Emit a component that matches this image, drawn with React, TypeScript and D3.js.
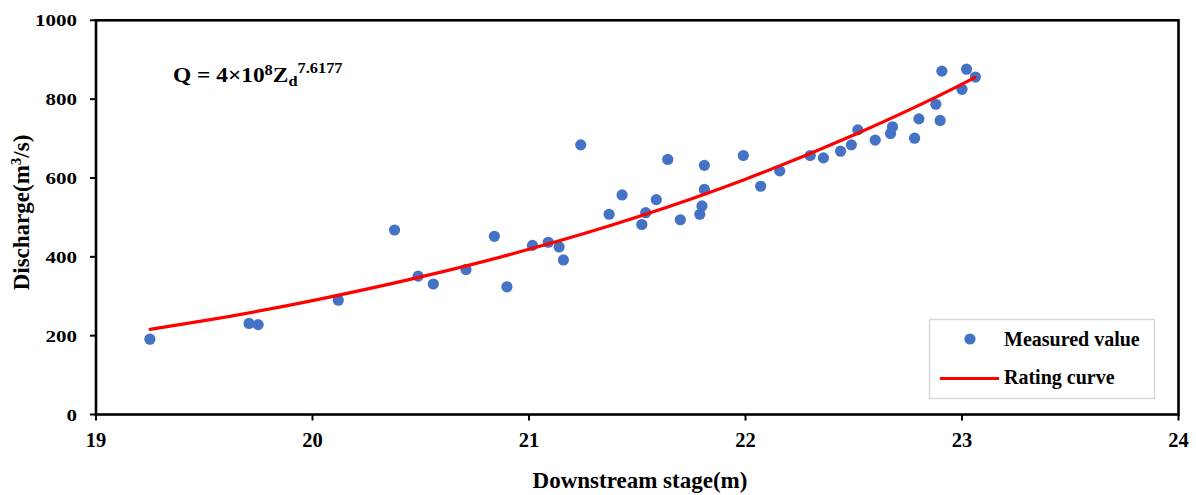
import React from "react";
import * as d3 from "d3";

// Measured downstream stage (m)
const stage: number[] = [
  19.249, 19.707, 19.749, 20.119, 20.379, 20.488, 20.558, 20.709, 20.84, 20.898,
  21.016, 21.089, 21.139, 21.159, 21.239, 21.37, 21.43, 21.521, 21.539, 21.588,
  21.641, 21.699, 21.789, 21.799, 21.81, 21.81, 21.99, 22.07, 22.158, 22.299,
  22.36, 22.439, 22.489, 22.519, 22.599, 22.67, 22.679, 22.781, 22.801, 22.879,
  22.899, 22.907, 23.0, 23.021, 23.062,
];
// Measured discharge (m3/s)
const discharge: number[] = [
  191, 231, 228, 290, 468, 351, 331, 368, 452, 324,
  429, 437, 425, 392, 684, 508, 557, 482, 512, 545,
  647, 494, 508, 529, 571, 632, 657, 579, 618, 657,
  651, 668, 684, 722, 696, 713, 730, 701, 750, 787,
  746, 871, 825, 876, 856,
];
// Rating curve read at stations
const curveStage: number[] = [19.25, 19.5, 20, 20.5, 21, 21.5, 22, 22.5, 23, 23.06];
const curveQ: number[] = [216, 238, 289, 349, 419, 501, 597, 709, 838, 855];

const xTicks: number[] = [19, 20, 21, 22, 23, 24];
const yTicks: number[] = [0, 200, 400, 600, 800, 1000];

const FONT = "'Times New Roman', 'Liberation Serif', serif";
const BLUE = "#4472C4";
const RED = "#FF0000";

export default function App() {
  const x = d3.scaleLinear().domain([19, 24]).range([96, 1178.5]);
  const y = d3.scaleLinear().domain([0, 1000]).range([414.5, 20.3]);

  const curvePts: [number, number][] = curveStage.map((s, i) => [s, curveQ[i]]);
  const line = d3
    .line<[number, number]>()
    .x((d) => x(d[0]))
    .y((d) => y(d[1]))
    .curve(d3.curveMonotoneX);

  return (
    <svg
      width={1196}
      height={495}
      style={{ position: "absolute", left: 0, top: 0, background: "#fff" }}
      fontFamily={FONT}
      fontWeight="bold"
    >
      <rect x={0} y={0} width={1196} height={495} fill="#fff" />
      {/* frame */}
      <rect
        x={x(19)}
        y={y(1000)}
        width={x(24) - x(19)}
        height={y(0) - y(1000)}
        fill="none"
        stroke="#000"
        strokeWidth={2.6}
      />
      {/* y ticks */}
      {yTicks.map((t) => (
        <g key={"y" + t}>
          <line x1={x(19) - 6} x2={x(19)} y1={y(t)} y2={y(t)} stroke="#000" strokeWidth={2} />
          <text
            transform={`translate(77,${y(t) + 6}) scale(1.2,1)`}
            textAnchor="end"
            fontSize={17.5}
            fill="#000"
          >
            {t}
          </text>
        </g>
      ))}
      {/* x ticks */}
      {xTicks.map((t) => (
        <g key={"x" + t}>
          <line x1={x(t)} x2={x(t)} y1={y(0)} y2={y(0) + 6} stroke="#000" strokeWidth={2} />
          <text x={x(t)} y={447} textAnchor="middle" fontSize={20.5} fill="#000">
            {t}
          </text>
        </g>
      ))}
      {/* axis titles */}
      <text x={640} y={488} textAnchor="middle" fontSize={23} fill="#000">
        Downstream stage(m)
      </text>
      <text
        transform={`translate(28.5,212.5) rotate(-90)`}
        textAnchor="middle"
        fontSize={23}
        fill="#000"
      >
        Discharge(m
        <tspan fontSize={15} dy={-8}>
          3
        </tspan>
        <tspan dy={8}>/s)</tspan>
      </text>
      {/* equation */}
      <text transform={`translate(173,82) scale(1.17,1)`} fontSize={20} fill="#000">
        Q = 4×10
        <tspan fontSize={14} dy={-7}>
          8
        </tspan>
        <tspan dy={7}>Z</tspan>
        <tspan fontSize={14} dy={4}>
          d
        </tspan>
        <tspan fontSize={14} dy={-13}>
          7.6177
        </tspan>
      </text>
      {/* points */}
      {stage.map((s, i) => (
        <circle key={"p" + i} cx={x(s)} cy={y(discharge[i])} r={5.6} fill={BLUE} />
      ))}
      {/* rating curve */}
      <path d={line(curvePts) || ""} fill="none" stroke={RED} strokeWidth={3.2} strokeLinecap="round" />
      {/* legend */}
      <rect x={929.5} y={319.5} width={225} height={79} fill="#fff" stroke="#d9d9d9" strokeWidth={1.5} />
      <circle cx={970} cy={339} r={5.6} fill={BLUE} />
      <text x={1004} y={345.5} fontSize={20} fill="#000">
        Measured value
      </text>
      <line x1={940} x2={999} y1={378.5} y2={378.5} stroke={RED} strokeWidth={3.2} />
      <text x={1004} y={384} fontSize={20} fill="#000">
        Rating curve
      </text>
    </svg>
  );
}
